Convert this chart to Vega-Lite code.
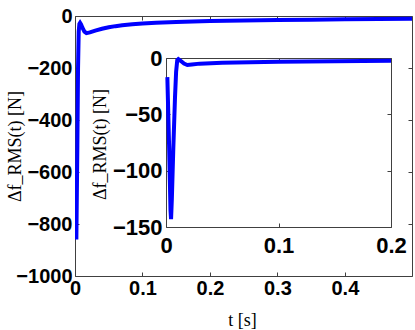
{
  "$schema": "https://vega.github.io/schema/vega-lite/v6.json",
  "width": 337,
  "height": 260,
  "autosize": {"type": "none"},
  "padding": {"left": 75, "top": 16, "right": 3, "bottom": 54},
  "background": "white",
  "config": {
    "view": {"stroke": "#404040", "strokeWidth": 1},
    "axis": {
      "grid": false,
      "labelFont": "Liberation Sans",
      "labelFontWeight": "bold",
      "labelFontSize": 20,
      "labelColor": "black",
      "tickColor": "#404040",
      "tickSize": -4,
      "domainColor": "#404040",
      "labelFlush": false,
      "labelOverlap": false,
      "labelBound": false,
      "titleFont": "Liberation Serif",
      "titleFontWeight": "normal",
      "titleFontSize": 18,
      "titleColor": "black"
    }
  },
  "datasets": {
    "main": [
      {"t": 0.002, "v": -860},
      {"t": 0.0035, "v": -500},
      {"t": 0.0045, "v": -200},
      {"t": 0.0055, "v": -60},
      {"t": 0.0065, "v": -30},
      {"t": 0.0075, "v": -26},
      {"t": 0.009, "v": -32},
      {"t": 0.011, "v": -45},
      {"t": 0.014, "v": -60},
      {"t": 0.017, "v": -66},
      {"t": 0.022, "v": -63},
      {"t": 0.03, "v": -56},
      {"t": 0.04, "v": -49},
      {"t": 0.05, "v": -43},
      {"t": 0.06, "v": -39},
      {"t": 0.07, "v": -36},
      {"t": 0.085, "v": -32},
      {"t": 0.1, "v": -29},
      {"t": 0.12, "v": -26},
      {"t": 0.15, "v": -23},
      {"t": 0.2, "v": -19},
      {"t": 0.25, "v": -17},
      {"t": 0.3, "v": -15},
      {"t": 0.35, "v": -14},
      {"t": 0.4, "v": -12.5},
      {"t": 0.45, "v": -11.5},
      {"t": 0.5, "v": -10.5}
    ],
    "inset": [
      {"t": 0.0012, "v": -17},
      {"t": 0.0028, "v": -80},
      {"t": 0.004, "v": -135},
      {"t": 0.0045, "v": -143},
      {"t": 0.0052, "v": -125},
      {"t": 0.0065, "v": -80},
      {"t": 0.008, "v": -35},
      {"t": 0.009, "v": -12},
      {"t": 0.01, "v": -2},
      {"t": 0.011, "v": -1},
      {"t": 0.013, "v": -2.5},
      {"t": 0.016, "v": -5},
      {"t": 0.019, "v": -6.2},
      {"t": 0.023, "v": -5.8},
      {"t": 0.03, "v": -5},
      {"t": 0.05, "v": -4.2},
      {"t": 0.1, "v": -3.3},
      {"t": 0.15, "v": -2.8},
      {"t": 0.2, "v": -2.5}
    ]
  },
  "layer": [
    {
      "data": {"name": "main"},
      "mark": {"type": "line", "color": "#0000ff", "strokeWidth": 4, "clip": true},
      "encoding": {
        "x": {
          "field": "t", "type": "quantitative",
          "scale": {"domain": [0, 0.4995], "nice": false, "zero": false},
          "axis": {
            "orient": "bottom", "values": [0, 0.1, 0.2, 0.3, 0.4], "format": "~g", "domain": false,
            "labelPadding": 6, "title": "t [s]", "titleX": 167, "titleY": 44,
            "titleBaseline": "middle", "titleAlign": "center"
          }
        },
        "y": {
          "field": "v", "type": "quantitative",
          "scale": {"domain": [-1000, 0], "nice": false},
          "axis": {
            "orient": "left", "values": [-1000, -800, -600, -400, -200, 0], "format": "d", "domain": false,
            "labelExpr": "replace(datum.label, '-', '−')",
            "labelPadding": 7, "title": "Δf_RMS(t) [N]", "titleX": -60, "titleY": 130,
            "titleBaseline": "middle", "titleAlign": "center", "titleAngle": -90
          }
        }
      }
    },
    {
      "data": {"name": "main"},
      "mark": {"type": "line", "strokeOpacity": 0},
      "encoding": {
        "x": {
          "field": "t", "type": "quantitative",
          "scale": {"domain": [0, 0.4995], "nice": false, "zero": false},
          "axis": {"orient": "top", "values": [0, 0.1, 0.2, 0.3, 0.4], "domain": false, "labels": false, "title": null}
        },
        "y": {
          "field": "v", "type": "quantitative",
          "scale": {"domain": [-1000, 0], "nice": false},
          "axis": {"orient": "right", "values": [-1000, -800, -600, -400, -200, 0], "domain": false, "labels": false, "title": null}
        }
      }
    },
    {
      "data": {"name": "inset"},
      "mark": {"type": "line", "color": "#0000ff", "strokeWidth": 4},
      "encoding": {
        "x": {
          "field": "t", "type": "quantitative",
          "scale": {"domain": [0, 0.2], "range": [91, 316], "nice": false, "zero": false},
          "axis": {
            "orient": "bottom", "offset": -49, "values": [0, 0.1, 0.2], "format": "~g", "domain": true,
            "labelFontSize": 22, "labelPadding": 12, "title": null
          }
        },
        "y": {
          "field": "v", "type": "quantitative",
          "scale": {"domain": [-150, 0], "range": [211, 42], "nice": false},
          "axis": {
            "orient": "left", "offset": -91, "values": [-150, -100, -50, 0], "format": "d", "domain": true,
            "labelExpr": "replace(datum.label, '-', '−')",
            "labelFontSize": 22, "labelPadding": 8, "title": "Δf_RMS(t) [N]",
            "titleX": -66, "titleY": 128, "titleBaseline": "middle", "titleAlign": "center", "titleAngle": -90
          }
        }
      }
    },
    {
      "data": {"name": "inset"},
      "mark": {"type": "line", "strokeOpacity": 0},
      "encoding": {
        "x": {
          "field": "t", "type": "quantitative",
          "scale": {"domain": [0, 0.2], "range": [91, 316], "nice": false, "zero": false},
          "axis": {"orient": "top", "offset": -42, "values": [0, 0.1, 0.2], "domain": true, "labels": false, "title": null}
        },
        "y": {
          "field": "v", "type": "quantitative",
          "scale": {"domain": [-150, 0], "range": [211, 42], "nice": false},
          "axis": {"orient": "right", "offset": -21, "values": [-150, -100, -50, 0], "domain": true, "labels": false, "title": null}
        }
      }
    }
  ],
  "resolve": {
    "scale": {"x": "independent", "y": "independent"},
    "axis": {"x": "independent", "y": "independent"}
  }
}
